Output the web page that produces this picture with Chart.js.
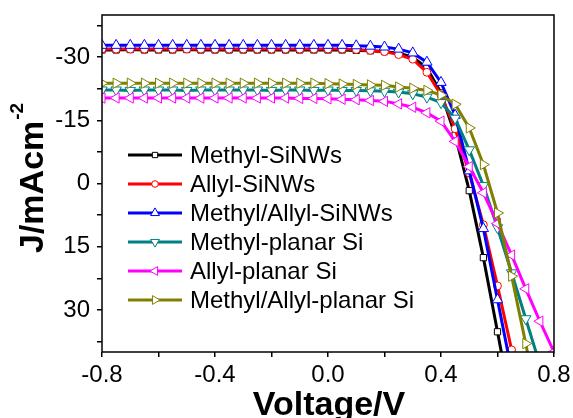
<!DOCTYPE html>
<html>
<head>
<meta charset="utf-8">
<script src="https://cdn.jsdelivr.net/npm/chart.js@4.4.1/dist/chart.umd.min.js"></script>
<style>
  html, body { margin: 0; padding: 0; background: #fff; }
  #wrap { width: 573px; height: 418px; }
</style>
</head>
<body>
<div id="wrap"><canvas id="grafica"></canvas></div>
<script>
// J-V curves, voltage step 0.05 V
const voltage = [-0.8, -0.75, -0.7, -0.65, -0.6, -0.55, -0.5, -0.45, -0.4, -0.35, -0.3,
  -0.25, -0.2, -0.15, -0.1, -0.05, 0, 0.05, 0.1, 0.15, 0.2, 0.25, 0.3, 0.35, 0.4,
  0.45, 0.5, 0.55, 0.6, 0.65, 0.7, 0.75, 0.8];

const methylSiNWs = [-31.7, -31.7, -31.8, -31.7, -31.7, -31.7, -31.8, -31.7, -31.7, -31.7, -31.7,
  -31.7, -31.7, -31.7, -31.7, -31.7, -31.7, -31.7, -31.6, -31.5, -31.3, -30.9, -30.0, -27.4, -21.5,
  -11.5, 1.7, 17.6, 35.2, 53];
const allylSiNWs = [-31.9, -31.9, -31.9, -31.9, -31.9, -31.9, -31.9, -31.9, -31.9, -31.9, -31.9,
  -31.9, -31.9, -31.9, -31.9, -31.9, -31.9, -31.9, -31.8, -31.6, -31.3, -30.6, -29.5, -26.4, -21.0,
  -13.0, -2.5, 9.8, 24.3, 39.5, 55];
const methylAllylSiNWs = [-32.8, -32.8, -32.8, -32.8, -32.8, -32.8, -32.8, -32.8, -32.8, -32.8, -32.8,
  -32.8, -32.8, -32.8, -32.8, -32.8, -32.8, -32.8, -32.7, -32.6, -32.4, -31.9, -31.0, -28.8, -24.0,
  -16.2, -3.0, 10.7, 27.6, 44.5];
const methylPlanar = [-22.2, -22.2, -22.1, -22.2, -22.2, -22.2, -22.1, -22.2, -22.2, -22.2, -22.2,
  -22.2, -22.1, -22.2, -22.2, -22.1, -22.2, -22.1, -22.1, -22.0, -21.9, -21.7, -21.3, -20.5, -19.2,
  -15.5, -8.0, 0.5, 10.5, 21.2, 32.1, 43];
const allylPlanar = [-20.3, -20.3, -20.3, -20.3, -20.3, -20.3, -20.3, -20.3, -20.3, -20.3, -20.3,
  -20.3, -20.3, -20.3, -20.2, -20.2, -20.1, -20.0, -19.9, -19.7, -19.5, -18.9, -18.1, -16.8, -14.8,
  -10.0, -4.0, 2.2, 9.5, 17.0, 25.0, 32.7, 40.0];
const methylAllylPlanar = [-23.8, -23.8, -23.8, -23.8, -23.8, -23.8, -23.8, -23.8, -23.8, -23.8, -23.8,
  -23.8, -23.8, -23.8, -23.8, -23.8, -23.7, -23.6, -23.5, -23.4, -23.3, -22.9, -22.6, -22.1, -21.0,
  -18.8, -13.2, -4.5, 7.0, 22.0, 38.0, 55];

const seriesNames = ['Methyl-SiNWs', 'Allyl-SiNWs', 'Methyl/Allyl-SiNWs',
  'Methyl-planar Si', 'Allyl-planar Si', 'Methyl/Allyl-planar Si'];
const seriesData = [methylSiNWs, allylSiNWs, methylAllylSiNWs, methylPlanar, allylPlanar, methylAllylPlanar];

const xTicks = [-0.8, -0.6, -0.4, -0.2, 0, 0.2, 0.4, 0.6, 0.8];
const xLabels = [-0.8, -0.4, 0, 0.4, 0.8];
const yTicks = [-37.5, -30, -22.5, -15, -7.5, 0, 7.5, 15, 22.5, 30, 37.5];
const yLabels = [-30, -15, 0, 15, 30];

const colores = ['#000000', '#ff0000', '#0000ff', '#008080', '#ff00ff', '#808000'];
const simbolos = ['rect', 'circle', 'triangle', 'triangle', 'triangle', 'triangle'];
const rotaciones = [0, 0, 0, 180, -90, 90];
const radios = [4.4, 3.9, 6, 6, 6, 6];

const fuente = "'Liberation Sans', Arial, sans-serif";

const datasets = seriesData.map((serie, i) => ({
  label: seriesNames[i],
  data: serie.map((j, k) => ({x: voltage[k], y: j})),
  borderColor: colores[i],
  borderWidth: 3,
  pointStyle: simbolos[i],
  pointRotation: rotaciones[i],
  pointRadius: radios[i],
  pointBorderWidth: 1,
  pointBorderColor: colores[i],
  pointBackgroundColor: '#ffffff',
  tension: 0,
  order: 6 - i
}));

// marco, leyenda y titulos
const extras = {
  id: 'extras',
  afterDraw(chart) {
    const ctx = chart.ctx;
    const a = chart.chartArea;
    ctx.save();
    ctx.strokeStyle = '#000';
    ctx.lineWidth = 1.5;
    ctx.strokeRect(a.left, a.top, a.right - a.left, a.bottom - a.top);

    // leyenda
    ctx.font = '24px ' + fuente;
    ctx.textBaseline = 'middle';
    ctx.textAlign = 'left';
    const y0 = 155, paso = 29;
    seriesNames.forEach((nombre, i) => {
      const y = y0 + i * paso;
      ctx.strokeStyle = colores[i];
      ctx.lineWidth = 3;
      ctx.beginPath();
      ctx.moveTo(128, y);
      ctx.lineTo(182, y);
      ctx.stroke();
      ctx.fillStyle = '#fff';
      ctx.lineWidth = 1;
      Chart.helpers.drawPoint(ctx, {
        pointStyle: simbolos[i], rotation: rotaciones[i],
        radius: radios[i] * 0.85, borderWidth: 1
      }, 155, y);
      ctx.fillStyle = '#000';
      ctx.fillText(nombre, 190, y + 1);
    });

    // titulo x
    ctx.fillStyle = '#000';
    ctx.font = 'bold 34px ' + fuente;
    ctx.textAlign = 'center';
    ctx.textBaseline = 'alphabetic';
    ctx.fillText('Voltage/V', 329, 415);

    // titulo y con superindice
    ctx.translate(43, 253);
    ctx.rotate(-Math.PI / 2);
    ctx.textAlign = 'left';
    ctx.fillText('J/mAcm', 0, 0);
    const w = ctx.measureText('J/mAcm').width;
    ctx.font = 'bold 19px ' + fuente;
    ctx.fillText('-2', w + 1, -20);
    ctx.restore();
  }
};

new Chart(document.getElementById('grafica'), {
  type: 'line',
  data: { datasets: datasets },
  options: {
    responsive: true,
    maintainAspectRatio: false,
    animation: false,
    layout: { padding: { top: 15, right: 19, left: 0, bottom: 0 } },
    plugins: {
      legend: { display: false },
      tooltip: { enabled: false }
    },
    scales: {
      x: {
        type: 'linear',
        min: -0.8,
        max: 0.8,
        afterBuildTicks: (scale) => { scale.ticks = xTicks.map(v => ({value: v})); },
        afterFit: (scale) => {
          scale.height = 66;
          scale.paddingLeft = 0;
          scale.paddingRight = 0;
        },
        grid: { drawOnChartArea: false, drawTicks: true, tickLength: 5, color: '#000', lineWidth: 1.5 },
        border: { display: false },
        ticks: {
          autoSkip: false,
          maxRotation: 0,
          padding: 4,
          color: '#000',
          font: { family: fuente, size: 24 },
          callback: (v) => xLabels.some(l => Math.abs(l - v) < 1e-6) ? v.toFixed(1) : ''
        }
      },
      y: {
        type: 'linear',
        reverse: true,
        min: -40,
        max: 40,
        afterBuildTicks: (scale) => { scale.ticks = yTicks.map(v => ({value: v})); },
        afterFit: (scale) => {
          scale.width = 102;
          scale.paddingTop = 0;
          scale.paddingBottom = 0;
        },
        grid: { drawOnChartArea: false, drawTicks: true, tickLength: 5, color: '#000', lineWidth: 1.5 },
        border: { display: false },
        ticks: {
          autoSkip: false,
          padding: 7,
          color: '#000',
          font: { family: fuente, size: 24 },
          callback: (v) => yLabels.includes(v) ? String(v) : ''
        }
      }
    }
  },
  plugins: [extras]
});
</script>
</body>
</html>
